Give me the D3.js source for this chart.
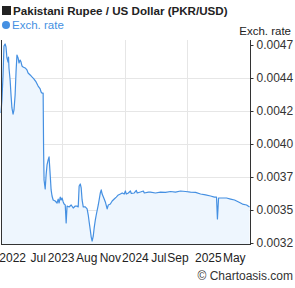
<!DOCTYPE html>
<html><head><meta charset="utf-8">
<script src="https://cdnjs.cloudflare.com/ajax/libs/d3/7.8.5/d3.min.js"></script>
<style>body{margin:0;background:#fff;}svg{display:block;font-family:"Liberation Sans",Arial,sans-serif;}</style>
</head><body>
<script>
const title = "Pakistani Rupee / US Dollar (PKR/USD)";
const seriesName = "Exch. rate";
const dates = ["2022-07-25","2022-07-29","2022-08-03","2022-08-07","2022-08-12","2022-08-16","2022-08-20","2022-08-25","2022-08-27","2022-08-29",
"2022-09-03","2022-09-07","2022-09-11","2022-09-16","2022-09-20","2022-09-25","2022-09-29","2022-10-03","2022-10-08","2022-10-12",
"2022-10-17","2022-10-21","2022-10-25","2022-10-30","2022-11-08","2022-11-16","2022-11-21","2022-11-30","2022-12-08","2022-12-17",
"2022-12-26","2023-01-04","2023-01-13","2023-01-17","2023-01-21","2023-01-26","2023-01-28","2023-01-30","2023-02-04","2023-02-08",
"2023-02-12","2023-02-17","2023-02-21","2023-02-26","2023-03-02","2023-03-06","2023-03-11","2023-03-20","2023-03-28","2023-04-02",
"2023-04-06","2023-04-11","2023-04-15","2023-04-19","2023-04-24","2023-04-28","2023-05-03","2023-05-07","2023-05-11","2023-05-20",
"2023-05-29","2023-06-07","2023-06-16","2023-06-24","2023-06-29","2023-07-03","2023-07-08","2023-07-12","2023-07-16","2023-07-21",
"2023-07-30","2023-08-07","2023-08-12","2023-08-16","2023-08-21","2023-08-25","2023-08-29","2023-09-03","2023-09-07","2023-09-12",
"2023-09-16","2023-09-25","2023-10-04","2023-10-08","2023-10-12","2023-10-21","2023-10-26","2023-11-03","2023-11-08","2023-11-17",
"2023-11-25","2023-12-04","2023-12-13","2023-12-22","2023-12-31","2024-01-08","2024-01-17","2024-01-22","2024-01-26","2024-02-04",
"2024-02-13","2024-02-17","2024-03-01","2024-03-10","2024-03-14","2024-03-28","2024-04-10","2024-04-14","2024-05-02","2024-05-11",
"2024-06-02","2024-06-24","2024-07-16","2024-08-07","2024-08-29","2024-09-20","2024-10-12","2024-11-03","2024-11-25","2024-12-17",
"2025-01-08","2025-01-30","2025-02-16","2025-02-25","2025-03-01","2025-03-06","2025-03-23","2025-04-10","2025-04-28","2025-05-15",
"2025-06-02","2025-06-19","2025-07-07","2025-07-20"];
const rates = [0.004185,0.004283,0.004473,0.004692,0.004708,0.004685,0.004602,0.004571,0.004609,0.004526,
0.004435,0.004321,0.004223,0.004177,0.004208,0.004321,0.004495,0.004624,0.004602,0.004564,
0.004586,0.004571,0.004541,0.004533,0.004526,0.004511,0.004488,0.004473,0.004458,0.004442,
0.004420,0.004389,0.004367,0.004344,0.004336,0.004336,0.003905,0.003677,0.003609,0.003715,
0.003791,0.003829,0.003852,0.003715,0.003602,0.003556,0.003526,0.003518,0.003503,0.003533,
0.003503,0.003548,0.003526,0.003541,0.003511,0.003495,0.003488,0.003352,0.003480,0.003473,
0.003488,0.003465,0.003480,0.003480,0.003473,0.003632,0.003647,0.003617,0.003526,0.003473,
0.003473,0.003458,0.003412,0.003359,0.003298,0.003245,0.003215,0.003253,0.003314,0.003374,
0.003412,0.003488,0.003579,0.003602,0.003571,0.003533,0.003511,0.003458,0.003488,0.003495,
0.003518,0.003533,0.003548,0.003564,0.003571,0.003579,0.003571,0.003594,0.003571,0.003579,
0.003594,0.003575,0.003579,0.003598,0.003579,0.003586,0.003594,0.003579,0.003586,0.003586,
0.003579,0.003586,0.003583,0.003590,0.003586,0.003594,0.003590,0.003586,0.003583,0.003571,
0.003564,0.003556,0.003548,0.003548,0.003382,0.003541,0.003541,0.003541,0.003533,0.003526,
0.003511,0.003495,0.003488,0.003473];
const yTickValues = [0.0032,0.00345,0.0037,0.00395,0.0042,0.00445,0.0047];
const yTickLabels = ["0.0032","0.0035","0.0037","0.0040","0.0042","0.0044","0.0047"];
const xLabelTexts = ["2022","Jul","2023","Aug","Nov","2024","Jul","Sep","2025","May"];
const xLabelDates = ["2022-09-14","2023-01-04","2023-04-15","2023-08-05","2023-11-17","2024-03-06","2024-06-17","2024-09-09","2025-01-20","2025-05-14"];
const xGridDates = ["2023-04-19","2024-01-22","2024-10-20"];

const W = 295, H = 288;
const L = 1, R = 250, T = 40, B = 245;
const parse = d3.timeParse("%Y-%m-%d");
const data = dates.map((d,i)=>({date:parse(d), v:rates[i]}));
const x = d3.scaleTime().domain([parse("2022-07-25"), parse("2025-07-22")]).range([L, R]);
const y = d3.scaleLinear().domain([0.0032, 0.0047]).range([243, 45]);

const svg = d3.select("body").append("svg").attr("width", W).attr("height", H);

// grid
const g = svg.append("g");
g.selectAll("line.h").data(yTickValues.slice(1,6)).enter().append("line")
  .attr("x1", L).attr("x2", R).attr("y1", d=>Math.round(y(d))+0.5).attr("y2", d=>Math.round(y(d))+0.5)
  .attr("stroke", "#e6e6e6").attr("stroke-width", 1);
g.selectAll("line.v").data(xGridDates).enter().append("line")
  .attr("x1", d=>Math.round(x(parse(d)))+0.5).attr("x2", d=>Math.round(x(parse(d)))+0.5)
  .attr("y1", T).attr("y2", B).attr("stroke", "#e6e6e6").attr("stroke-width", 1);

// area + line
const area = d3.area().x(d=>x(d.date)).y0(B).y1(d=>y(d.v));
svg.append("path").datum(data).attr("d", area).attr("fill", "#eef6fe");
const line = d3.line().x(d=>x(d.date)).y(d=>y(d.v));
svg.append("path").datum(data).attr("d", line).attr("fill", "none")
  .attr("stroke", "#4590e2").attr("stroke-width", 1.2).attr("stroke-linejoin", "round");

// axes frame
svg.append("line").attr("x1", L+0.5).attr("x2", L+0.5).attr("y1", T).attr("y2", B).attr("stroke", "#333");
svg.append("line").attr("x1", L).attr("x2", R).attr("y1", B-0.5).attr("y2", B-0.5).attr("stroke", "#333");
const yAxis = d3.axisRight(y).tickValues(yTickValues).tickFormat((d,i)=>yTickLabels[i]).tickSize(3).tickPadding(3);
const ya = svg.append("g").attr("transform", `translate(${R+0.5},0)`).call(yAxis);
ya.select(".domain").attr("d", `M0,${T}V${B}`).attr("stroke", "#333");
ya.selectAll(".tick line").attr("stroke", "#333");
ya.selectAll("text").attr("font-size", 12).attr("fill", "#333").attr("font-family", "Liberation Sans, Arial, sans-serif");

// x labels
svg.selectAll("text.xl").data(xLabelTexts).enter().append("text")
  .attr("x", (d,i)=>x(parse(xLabelDates[i]))).attr("y", 262)
  .attr("text-anchor", "middle").attr("font-size", 12).attr("fill", "#222").text(d=>d);

// title
svg.append("rect").attr("x", 2).attr("y", 6).attr("width", 9).attr("height", 9).attr("fill", "#222");
svg.append("text").attr("x", 13).attr("y", 15).attr("font-size", 11.6).attr("font-weight", "bold").attr("fill", "#222").text(title);
// legend
svg.append("circle").attr("cx", 6).attr("cy", 25).attr("r", 4).attr("fill", "#4590e2");
svg.append("text").attr("x", 12).attr("y", 29).attr("font-size", 11.5).attr("fill", "#4590e2").text(seriesName);
// axis title
svg.append("text").attr("x", 291).attr("y", 35).attr("text-anchor", "end").attr("font-size", 11.5).attr("fill", "#222").text(seriesName);
// copyright
svg.append("text").attr("x", 293).attr("y", 280).attr("text-anchor", "end").attr("font-size", 12).attr("fill", "#333").text("\u00A9 Chartoasis.com");
</script>
</body></html>
